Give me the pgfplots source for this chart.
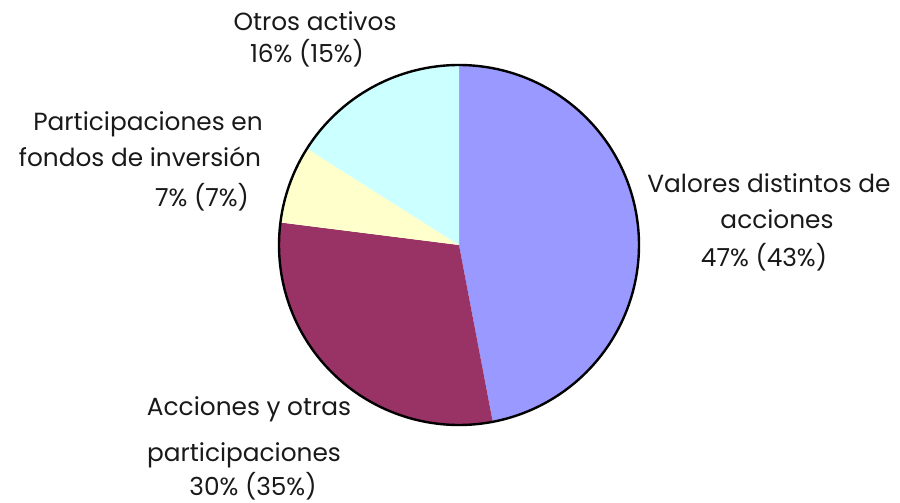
\documentclass[border=0pt]{standalone}
\usepackage{pgfplots}
\pgfplotsset{compat=1.18}
\usepackage{pgfplotstable}
\usepackage{fontspec}
\setmainfont{Poppins}
\definecolor{cA}{HTML}{9999FF}
\definecolor{cB}{HTML}{993366}
\definecolor{cC}{HTML}{FFFFCC}
\definecolor{cD}{HTML}{CCFFFF}
\pgfplotstableread{
value
47
30
7
16
}\piedata
\begin{document}
\begin{tikzpicture}[lbl/.style={font=\fontsize{12.4bp}{14bp}\selectfont, inner sep=0pt, anchor=base, text=black!90}]
\pgfplotstablegetelem{0}{value}\of\piedata\let\vA\pgfplotsretval
\pgfplotstablegetelem{1}{value}\of\piedata\let\vB\pgfplotsretval
\pgfplotstablegetelem{2}{value}\of\piedata\let\vC\pgfplotsretval
\pgfplotstablegetelem{3}{value}\of\piedata\let\vD\pgfplotsretval
\pgfmathsetmacro\aA{90}
\pgfmathsetmacro\aB{\aA-3.6*\vA}
\pgfmathsetmacro\aC{\aB-3.6*\vB}
\pgfmathsetmacro\aD{\aC-3.6*\vC}
\pgfmathsetmacro\aE{\aD-3.6*\vD}
\def\cx{459}\def\cy{257}\def\R{180}
\begin{axis}[
  scale only axis, width=450bp, height=251bp,
  xmin=0, xmax=900, ymin=0, ymax=502,
  hide axis, clip=false,
]
\path (axis cs:0,0) rectangle (axis cs:900,502);
\addplot[fill=cA, draw=none, domain=\aA:\aB, samples=100] ({\cx+\R*cos(x)},{\cy+\R*sin(x)}) -- (axis cs:\cx,\cy) -- cycle;
\addplot[fill=cB, draw=none, domain=\aB:\aC, samples=80] ({\cx+\R*cos(x)},{\cy+\R*sin(x)}) -- (axis cs:\cx,\cy) -- cycle;
\addplot[fill=cC, draw=none, domain=\aC:\aD, samples=30] ({\cx+\R*cos(x)},{\cy+\R*sin(x)}) -- (axis cs:\cx,\cy) -- cycle;
\addplot[fill=cD, draw=none, domain=\aD:\aE, samples=50] ({\cx+\R*cos(x)},{\cy+\R*sin(x)}) -- (axis cs:\cx,\cy) -- cycle;
\addplot[black, line width=1.2bp, domain=0:360, samples=241] ({\cx+\R*cos(x)},{\cy+\R*sin(x)});
\node[lbl] at (axis cs:315,471) {Otros activos};
\node[lbl] at (axis cs:307,439) {16\% (15\%)};
\node[lbl] at (axis cs:148,371) {Participaciones en};
\node[lbl] at (axis cs:140,335) {fondos de inversión};
\node[lbl] at (axis cs:202,296) {7\% (7\%)};
\node[lbl] at (axis cs:769,309) {Valores distintos de};
\node[lbl] at (axis cs:777,274) {acciones};
\node[lbl] at (axis cs:764,236) {47\% (43\%)};
\node[lbl] at (axis cs:249,87) {Acciones y otras};
\node[lbl] at (axis cs:244,41) {participaciones};
\node[lbl] at (axis cs:253,7) {30\% (35\%)};
\end{axis}
\end{tikzpicture}
\end{document}
